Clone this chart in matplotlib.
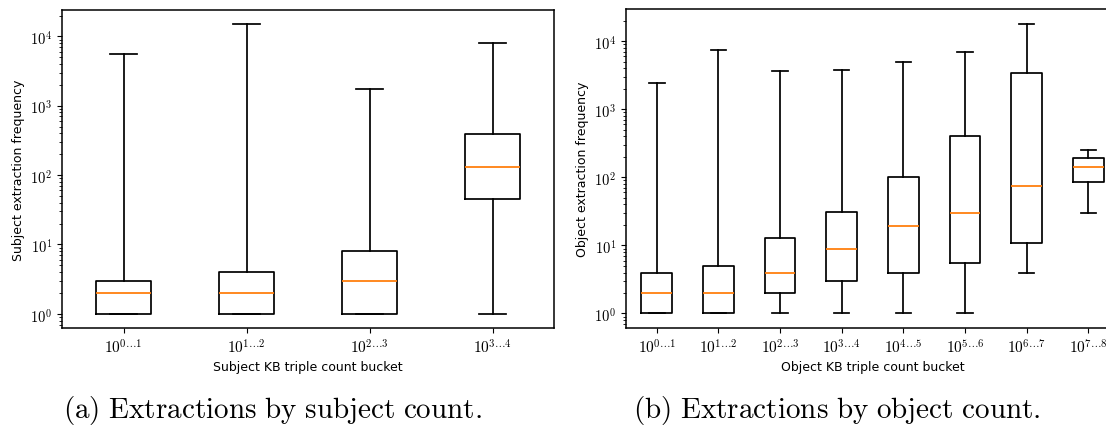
import numpy as np
import matplotlib
matplotlib.use("Agg")
import matplotlib.pyplot as plt
from matplotlib import ticker

plt.rcParams['mathtext.fontset'] = 'cm'
plt.rcParams['font.family'] = ['DejaVu Sans']

# Subject panel
subj_labels = [r'$10^{0\ldots1}$', r'$10^{1\ldots2}$', r'$10^{2\ldots3}$', r'$10^{3\ldots4}$']
subj_min = [1, 1, 1, 1]
subj_q1 = [1, 1, 1, 45]
subj_med = [2, 2, 3, 130]
subj_q3 = [3, 4, 8, 390]
subj_max = [5500, 15000, 1750, 8000]

# Object panel
obj_labels = [r'$10^{0\ldots1}$', r'$10^{1\ldots2}$', r'$10^{2\ldots3}$', r'$10^{3\ldots4}$',
              r'$10^{4\ldots5}$', r'$10^{5\ldots6}$', r'$10^{6\ldots7}$', r'$10^{7\ldots8}$']
obj_min = [1, 1, 1, 1, 1, 1, 4, 30]
obj_q1 = [1, 1, 2, 3, 4, 5.5, 11, 85]
obj_med = [2, 2, 4, 9, 19, 30, 75, 140]
obj_q3 = [4, 5, 13, 31, 100, 400, 3400, 190]
obj_max = [2400, 7300, 3600, 3800, 5000, 7000, 18000, 250]


def make_stats(labels, mn, q1, med, q3, mx):
    return [dict(label=l, whislo=a, q1=b, med=c, q3=d, whishi=e, fliers=[])
            for l, a, b, c, d, e in zip(labels, mn, q1, med, q3, mx)]


fig = plt.figure(figsize=(11.06, 4.31), dpi=100)
ax1 = fig.add_axes([0.0561, 0.2360, 0.4448, 0.7392])
ax2 = fig.add_axes([0.5660, 0.2367, 0.4458, 0.7394])

def fmt(v, p):
    e = int(round(np.log10(v)))
    return rf'$10^{{{e}}}$'

lw = 1.25
for ax, stats, ylabel, xlabel in [
    (ax1, make_stats(subj_labels, subj_min, subj_q1, subj_med, subj_q3, subj_max),
     'Subject extraction frequency', 'Subject KB triple count bucket'),
    (ax2, make_stats(obj_labels, obj_min, obj_q1, obj_med, obj_q3, obj_max),
     'Object extraction frequency', 'Object KB triple count bucket'),
]:
    n = len(stats)
    pos = np.arange(1, n + 1)
    w = float(np.clip(0.15 * np.ptp(pos), 0.15, 0.5))
    ax.bxp(stats, positions=pos, widths=w, showfliers=False,
           boxprops=dict(linewidth=lw, color='black'),
           whiskerprops=dict(linewidth=lw, color='black'),
           capprops=dict(linewidth=lw, color='black'),
           medianprops=dict(color='#ff7f0e', linewidth=1.3))
    ax.set_yscale('log')
    ax.yaxis.set_major_formatter(ticker.FuncFormatter(fmt))
    ax.tick_params(axis='y', labelsize=10.5)
    ax.tick_params(axis='x', labelsize=11)
    for s in ax.spines.values():
        s.set_linewidth(1.1)
    ax.set_ylabel(ylabel, fontsize=9)
    ax.set_xlabel(xlabel, fontsize=9, labelpad=3)

fig.text(0.2464, 0.048, r'$\mathrm{(a)\ Extractions\ by\ subject\ count.}$',
         ha='center', va='center', fontsize=21)
fig.text(0.757, 0.048, r'$\mathrm{(b)\ Extractions\ by\ object\ count.}$',
         ha='center', va='center', fontsize=21)

fig.savefig('out.png', dpi=100)
